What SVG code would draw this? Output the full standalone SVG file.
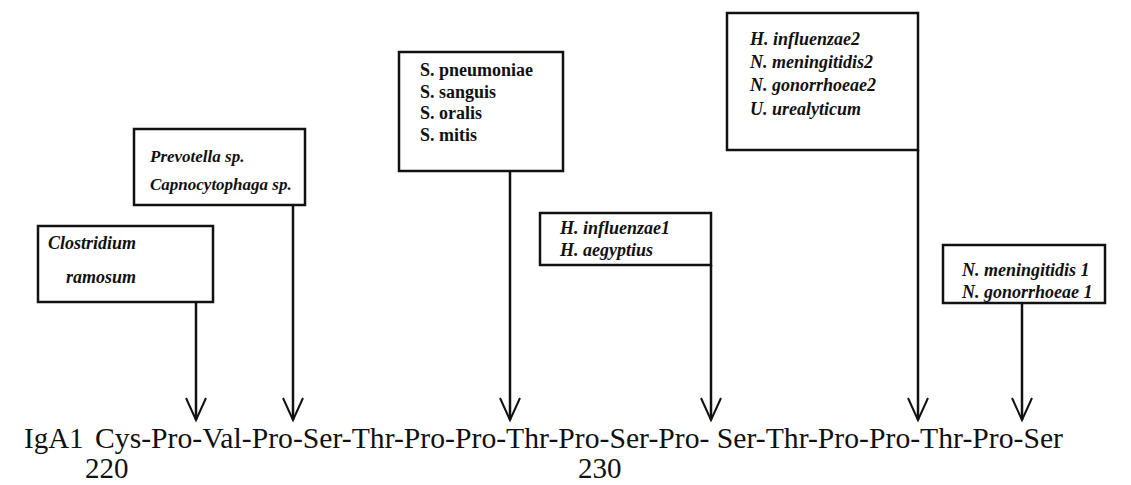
<svg xmlns="http://www.w3.org/2000/svg" width="1131" height="485" viewBox="0 0 1131 485">
<defs>
<style>
.box{fill:#fff;stroke:#111;stroke-width:2.5}
.lab{font-family:"Liberation Serif",serif;font-style:italic;font-weight:bold;font-size:18px;fill:#111}
.sm{font-size:17px}
.labr{font-family:"Liberation Serif",serif;font-weight:bold;font-size:18px;fill:#111}
.seq{font-family:"Liberation Serif",serif;font-size:29px;fill:#111}
.ln{stroke:#111;stroke-width:2.5;fill:none}
.hd{stroke:#111;stroke-width:2;fill:none}
</style>
</defs>
<rect width="1131" height="485" fill="#fff"/>
<g id="connectors">
<line class="ln" x1="196" y1="302" x2="196" y2="420"/>
<polyline class="hd" points="186,398 196,420 206,398"/>
<line class="ln" x1="293" y1="205" x2="293" y2="420"/>
<polyline class="hd" points="283,398 293,420 303,398"/>
<line class="ln" x1="510" y1="171" x2="510" y2="420"/>
<polyline class="hd" points="500,398 510,420 520,398"/>
<line class="ln" x1="711" y1="265" x2="711" y2="420"/>
<polyline class="hd" points="701,398 711,420 721,398"/>
<line class="ln" x1="918" y1="150" x2="918" y2="420"/>
<polyline class="hd" points="908,398 918,420 928,398"/>
<line class="ln" x1="1022" y1="303" x2="1022" y2="420"/>
<polyline class="hd" points="1012,398 1022,420 1032,398"/>
</g>
<g id="clostridium">
<rect class="box" x="38" y="226" width="175" height="76"/>
<text class="lab" x="48" y="249">Clostridium</text>
<text class="lab" x="66" y="283">ramosum</text>
</g>
<g id="prevotella">
<rect class="box" x="134" y="129" width="171" height="76"/>
<text class="lab sm" x="150" y="162">Prevotella sp.</text>
<text class="lab sm" x="150" y="190">Capnocytophaga sp.</text>
</g>
<g id="streptococcus">
<rect class="box" x="399" y="52" width="164" height="119"/>
<text class="labr" x="420" y="76">S. pneumoniae</text>
<text class="labr" x="420" y="98">S. sanguis</text>
<text class="labr" x="420" y="119">S. oralis</text>
<text class="labr" x="420" y="141">S. mitis</text>
</g>
<g id="haemophilus1">
<rect class="box" x="540" y="213" width="171" height="52"/>
<text class="lab" x="560" y="234">H. influenzae1</text>
<text class="lab" x="560" y="256">H. aegyptius</text>
</g>
<g id="group2">
<rect class="box" x="727" y="13" width="191" height="137"/>
<text class="lab" x="750" y="45">H. influenzae2</text>
<text class="lab" x="750" y="68">N. meningitidis2</text>
<text class="lab" x="750" y="91">N. gonorrhoeae2</text>
<text class="lab" x="750" y="115">U. urealyticum</text>
</g>
<g id="neisseria1">
<rect class="box" x="943" y="245" width="162" height="58"/>
<text class="lab" x="962" y="276">N. meningitidis 1</text>
<text class="lab" x="962" y="298">N. gonorrhoeae 1</text>
</g>
<g id="sequence">
<text class="seq" x="24" y="448">IgA1</text>
<text class="seq" x="95" y="448" textLength="968" lengthAdjust="spacingAndGlyphs">Cys-Pro-Val-Pro-Ser-Thr-Pro-Pro-Thr-Pro-Ser-Pro- Ser-Thr-Pro-Pro-Thr-Pro-Ser</text>
<text class="seq" x="85" y="478">220</text>
<text class="seq" x="578" y="478">230</text>
</g>
</svg>
